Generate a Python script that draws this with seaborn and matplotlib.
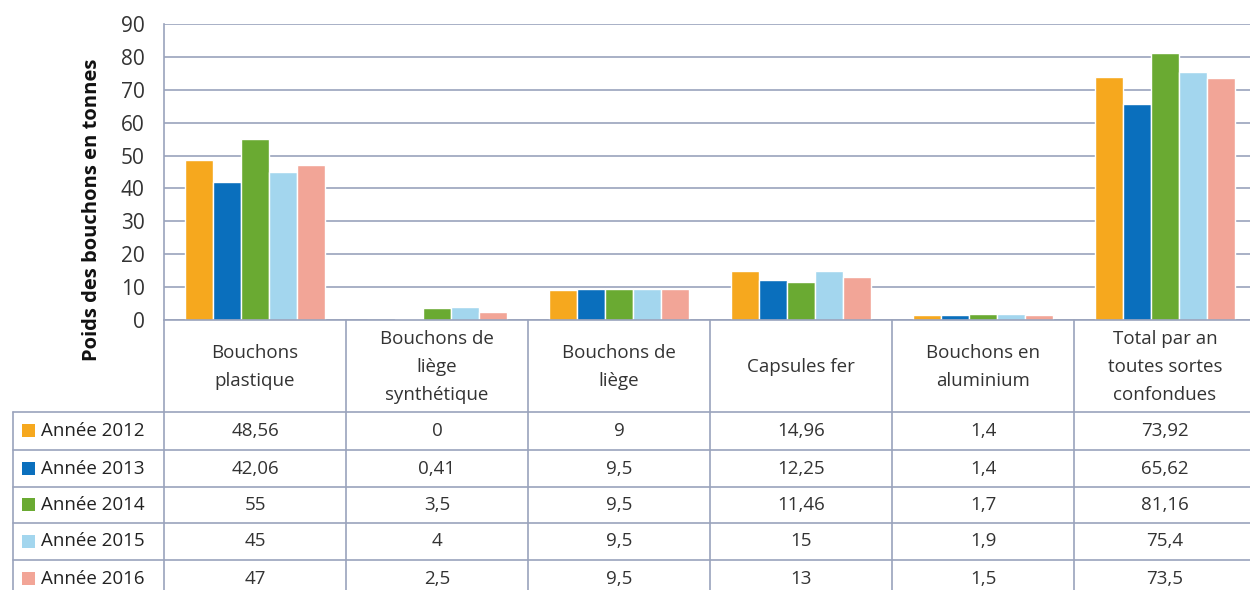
import numpy as np
import pandas as pd
import matplotlib
matplotlib.use("Agg")
import matplotlib.pyplot as plt
import seaborn as sns

categories = ["Bouchons\nplastique", "Bouchons de\nliège\nsynthétique", "Bouchons de\nliège",
              "Capsules fer", "Bouchons en\naluminium", "Total par an\ntoutes sortes\nconfondues"]
years = ["Année 2012", "Année 2013", "Année 2014", "Année 2015", "Année 2016"]
v2012 = [48.56, 0, 9, 14.96, 1.4, 73.92]
v2013 = [42.06, 0.41, 9.5, 12.25, 1.4, 65.62]
v2014 = [55, 3.5, 9.5, 11.46, 1.7, 81.16]
v2015 = [45, 4, 9.5, 15, 1.9, 75.4]
v2016 = [47, 2.5, 9.5, 13, 1.5, 73.5]
colors = ["#f6a81e", "#0a6fbd", "#6aaa32", "#a3d6ee", "#f2a597"]

values = [v2012, v2013, v2014, v2015, v2016]
df = pd.DataFrame({
    "cat": [c for y in years for c in categories],
    "year": [y for y in years for c in categories],
    "val": [v for vals in values for v in vals],
})

sns.set_style("white")
plt.rcParams["font.family"] = ["Open Sans", "DejaVu Sans"]

W, H = 1250, 590
fig = plt.figure(figsize=(W / 100, H / 100), dpi=100)
L, R, T, B = 164, 1256, 24, 320
ax = fig.add_axes([L / W, 1 - B / H, (R - L) / W, (B - T) / H])

line_c = "#9aa3bc"
txt_c = "#333333"
sns.barplot(data=df, x="cat", y="val", hue="year", palette=colors, width=0.77, gap=0,
            saturation=1, legend=False, ax=ax)
ax.set_xlim(-0.5, 5.5)
ax.set_ylim(0, 90)
ax.set_yticks(range(0, 100, 10))
ax.grid(axis="y", color=line_c, lw=1.2)
ax.set_axisbelow(True)
ax.set_xticks([])
ax.set_xlabel("")
ax.set_ylabel("")
for s in ["top", "right", "bottom"]:
    ax.spines[s].set_visible(False)
ax.spines["left"].set_color(line_c)
ax.spines["left"].set_linewidth(1.2)
ax.tick_params(axis="y", length=0, pad=14, labelsize=15, labelcolor=txt_c)

fig.text(92 / W, 1 - 210 / H, "Poids des bouchons en tonnes", rotation=90, ha="center",
         va="center", fontsize=14.5, fontweight="bold", color="#111111")

# data table under the chart, drawn in pixel coordinates
tab = fig.add_axes([0, 0, 1, 1])
tab.set_xlim(0, W)
tab.set_ylim(H, 0)
tab.axis("off")
tab.patch.set_alpha(0)

colw = (R - L) / len(categories)
rows_y = [412, 450, 487, 523, 560, 597]
tab.plot([L, R], [B, B], color=line_c, lw=1.2)
for y in rows_y[:-1]:
    tab.plot([13, R], [y, y], color=line_c, lw=1.2)
tab.plot([13, 13], [rows_y[0], H], color=line_c, lw=1.2)
for i in range(len(categories)):
    x = L + i * colw
    tab.plot([x, x], [B, H], color=line_c, lw=1.2)

for i, c in enumerate(categories):
    tab.text(L + (i + 0.5) * colw, 367, c, ha="center", va="center", fontsize=13.5,
             color=txt_c, linespacing=1.72)

for j, (y, vals) in enumerate(zip(years, values)):
    yc = (rows_y[j] + rows_y[j + 1]) / 2
    tab.add_patch(plt.Rectangle((22, yc - 7), 13, 13, color=colors[j], lw=0))
    tab.text(41, yc, y, ha="left", va="center", fontsize=13.5, color="#222222")
    for i, v in enumerate(vals):
        tab.text(L + (i + 0.5) * colw, yc, f"{v:g}".replace(".", ","), ha="center",
                 va="center", fontsize=13.5, color=txt_c)

fig.savefig("out.png", dpi=100, facecolor="white")
